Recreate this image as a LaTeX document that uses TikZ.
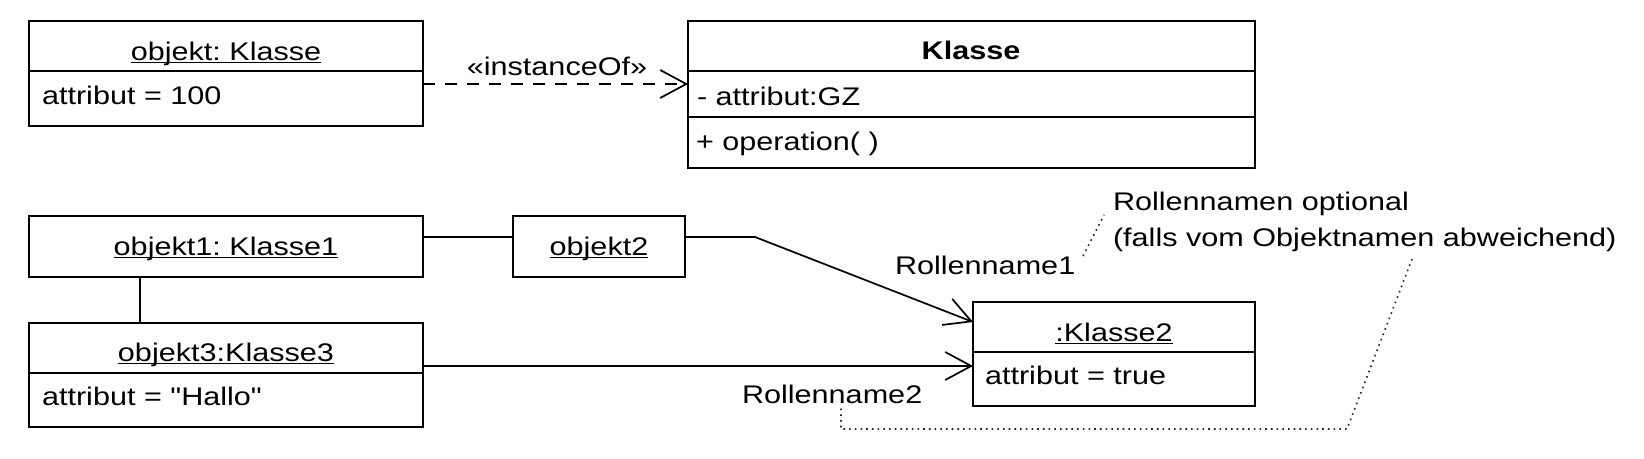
\documentclass[tikz,border=0pt]{standalone}
\usepackage{fontspec}
\setmainfont{Liberation Sans}[FakeStretch=1.2,Ligatures=TeXOff]
\usetikzlibrary{arrows.meta,calc}
\frenchspacing
\newcommand\ulx[1]{\setbox0\hbox{#1}\rlap{\rule[-3.4pt]{\wd0}{1.4pt}}\box0}
\begin{document}
\frenchspacing
\begin{tikzpicture}[x=1pt,y=-1pt,line width=1.7pt,
  box/.style={draw,rectangle,inner sep=0pt,outer sep=0pt,anchor=north west},
  txt/.style={inner sep=0pt,outer sep=0pt,font=\fontsize{25.5}{30}\selectfont},
  link/.style={draw,line width=1.7pt},
  openarrow/.style={-{Straight Barb[length=26pt,width=28pt,line width=1.7pt]}},
  dashline/.style={dash pattern=on 12pt off 10pt},
  dotline/.style={line width=1.6pt,dash pattern=on 1.6pt off 4.1pt,black!85}]
\fill[white] (0,0) rectangle (1644,458);
\useasboundingbox (0,0) rectangle (1644,458);

% boxes
\node[box,minimum width=394pt,minimum height=105pt] (objK) at (29,21) {};
\node[box,minimum width=567pt,minimum height=147pt] (K) at (688,21) {};
\node[box,minimum width=394pt,minimum height=61pt] (o1) at (29,216) {};
\node[box,minimum width=172pt,minimum height=61pt] (o2) at (513,216) {};
\node[box,minimum width=394pt,minimum height=104pt] (o3) at (29,323) {};
\node[box,minimum width=282pt,minimum height=104pt] (K2) at (973,302) {};

% compartment lines
\draw ($(objK.north west)+(0,50)$) -- ($(objK.north east)+(0,50)$);
\draw ($(K.north west)+(0,50)$) -- ($(K.north east)+(0,50)$);
\draw ($(K.north west)+(0,96)$) -- ($(K.north east)+(0,96)$);
\draw ($(o3.north west)+(0,50)$) -- ($(o3.north east)+(0,50)$);
\draw ($(K2.north west)+(0,50)$) -- ($(K2.north east)+(0,50)$);

% texts
\node[txt,anchor=base] (tobjK) at (226,60) {\ulx{objekt: Klasse}};
\node[txt,anchor=base west] (aobjK) at (42,104) {attribut = 100};
\node[txt,anchor=base] (tK) at (971,59) {\bfseries Klasse};
\node[txt,anchor=base west] (aK) at (697,105) {- attribut:GZ};
\node[txt,anchor=base west] (opK) at (696,150) {+ operation( )};
\node[txt,anchor=base] (to1) at (226,255) {\ulx{objekt1: Klasse1}};
\node[txt,anchor=base] (to2) at (599,255) {\ulx{objekt2}};
\node[txt,anchor=base] (to3) at (226,361) {\ulx{objekt3:Klasse3}};
\node[txt,anchor=base west] (ao3) at (42,405) {attribut = "Hallo"};
\node[txt,anchor=base] (tK2) at (1114,341) {\ulx{:Klasse2}};
\node[txt,anchor=base west] (aK2) at (985,384) {attribut = true};
\node[txt,anchor=base] (inst) at (557,75) {«instanceOf»};
\node[txt,anchor=base west] (r1) at (895,274) {Rollenname1};
\node[txt,anchor=base west] (r2) at (742,403) {Rollenname2};
\node[txt,anchor=base west] (note1) at (1113,210) {Rollennamen optional};
\node[txt,anchor=base west] (note2) at (1113,246) {(falls vom Objektnamen abweichend)};

% connectors
\draw[openarrow,dashline] ($(objK.north east)+(0,63)$) -- ($(K.north west)+(0,63)$);
\draw[link] ($(o1.north east)+(0,21)$) -- ($(o2.north west)+(0,21)$);
\draw[link,openarrow] ($(o2.north east)+(0,21)$) -- ++(70,0) -- ($(K2.north west)+(0,20)$);
\draw[link] ($(o1.south west)+(111,0)$) -- ($(o3.north west)+(111,0)$);
\draw[link,openarrow] ($(o3.north east)+(0,43)$) -- ($(K2.north west)+(0,64)$);

% note lines
\coordinate (c1) at (1347,429);
\coordinate (r2end) at ($(r2.base west)+(99,5)$);
\coordinate (c2) at (c1 -| r2end);
\draw[dotline] ($(r1.base west)+(188,-18)$) -- ($(note1.base west)+(-9,5)$);
\draw[dotline] ($(note2.base west)+(299,13)$) -- (c1) -- (c2) -- (r2end);
\end{tikzpicture}
\end{document}
